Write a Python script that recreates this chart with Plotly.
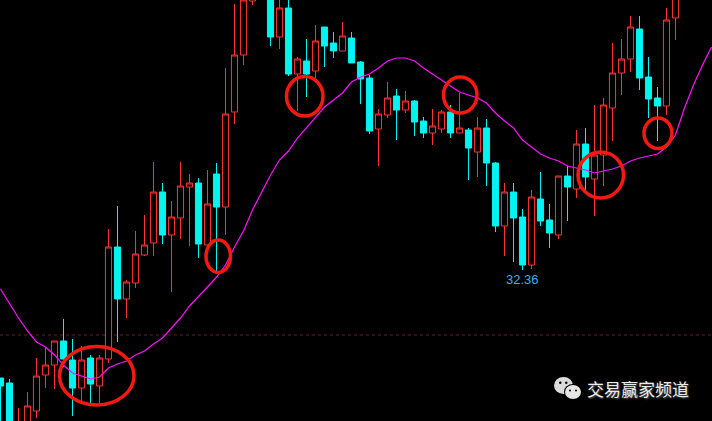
import plotly.graph_objects as go

# Daily candles, index 0..75 (the ones outside the frame are estimates)
opens = [30.20,30.10,28.96,29.06,29.54,30.26,30.46,30.94,30.56,30.00,30.60,30.04,30.58,32.82,31.78,32.10,32.66,32.90,33.92,33.06,
         33.40,34.02,34.10,32.86,34.28,33.62,35.52,36.66,37.74,38.00,38.06,37.02,37.60,36.28,36.54,36.34,37.22,36.90,36.74,37.00,
         36.52,36.20,35.18,35.46,35.84,35.56,35.74,35.34,35.10,35.18,35.52,35.10,35.16,34.72,35.20,34.50,33.24,33.92,33.42,32.46,
         33.78,33.36,33.06,34.24,33.98,34.88,34.18,34.66,35.60,36.30,36.58,37.18,36.22,35.80,35.64,37.40]
highs = [30.20,30.18,29.60,29.92,30.60,30.82,30.94,31.38,30.98,30.84,30.66,30.66,33.18,33.64,32.16,33.14,33.46,34.52,34.10,33.74,
         34.52,34.28,34.20,34.36,34.50,36.40,37.68,37.96,37.92,38.30,38.16,38.00,37.86,36.62,36.98,37.26,37.22,37.12,37.32,37.12,
         36.54,36.26,35.58,36.12,35.98,35.94,35.76,35.42,35.58,35.56,35.66,35.90,35.20,35.42,35.38,34.52,34.10,34.10,33.58,33.96,
         34.32,33.68,34.24,34.44,35.16,35.20,35.66,35.80,36.90,36.98,37.44,37.44,36.62,36.02,37.60,38.06]
lows = [29.16,28.86,28.86,28.96,29.40,30.00,29.98,30.42,29.44,29.72,29.70,29.68,30.50,30.92,31.40,32.00,32.64,32.64,32.88,31.92,
        32.98,32.84,32.60,32.76,32.30,33.06,35.28,36.46,37.66,37.85,36.84,36.78,36.24,35.54,35.82,36.20,36.42,36.60,36.74,36.50,
        35.68,35.08,34.44,35.40,34.96,35.50,35.04,35.00,34.86,35.10,35.00,35.10,34.16,34.22,34.04,33.12,32.64,32.52,32.36,32.38,
        33.24,32.80,32.98,33.34,33.80,33.96,33.44,34.04,34.94,35.86,36.32,35.96,35.40,34.94,35.46,36.96]
closes = [30.04,28.96,29.26,29.64,30.24,30.46,30.94,30.58,30.00,30.56,30.08,30.60,32.82,31.78,32.12,32.68,32.86,33.92,33.06,33.42,
          34.04,34.10,32.88,33.68,33.62,35.48,36.66,37.76,37.82,38.15,37.02,37.60,36.28,36.58,36.28,36.94,36.84,36.74,37.04,36.50,
          36.18,35.14,35.48,35.80,35.56,35.74,35.32,35.10,35.24,35.52,35.10,35.20,34.80,35.20,34.50,33.24,33.92,33.40,32.46,33.82,
          33.34,33.10,34.24,34.02,34.88,34.22,34.66,35.66,36.30,36.58,37.22,36.20,35.78,35.64,37.36,37.96]

# Moving average, index 0..79
ma = [31.98,31.68,31.40,31.14,30.92,30.82,30.66,30.46,30.30,30.24,30.18,30.22,30.40,30.48,30.54,30.66,30.74,30.88,31.00,31.20,
      31.40,31.64,31.82,32.02,32.22,32.46,32.82,33.14,33.56,33.92,34.26,34.56,34.74,35.00,35.20,35.42,35.62,35.76,35.90,36.12,
      36.22,36.28,36.40,36.54,36.60,36.60,36.54,36.40,36.28,36.16,36.04,35.92,35.86,35.80,35.70,35.50,35.34,35.20,34.96,34.82,
      34.68,34.60,34.54,34.44,34.40,34.36,34.30,34.34,34.38,34.44,34.54,34.60,34.64,34.68,34.82,35.06,35.60,36.06,36.46,36.82]

prev_close = 31.06
low_label = "32.36"
low_index = 58
low_value = 32.36
watermark = "交易赢家频道"

W, H = 712, 421
RED, CYAN, MAG = "#ff3333", "#00f5f0", "#ff10ff"

fig = go.Figure()
fig.add_trace(go.Candlestick(
    x=list(range(len(opens))), open=opens, high=highs, low=lows, close=closes,
    increasing=dict(line=dict(color=RED, width=1), fillcolor="#000000"),
    decreasing=dict(line=dict(color=CYAN, width=1), fillcolor=CYAN),
    whiskerwidth=0, showlegend=False, hoverinfo="skip"))
fig.add_trace(go.Scatter(x=list(range(len(ma))), y=ma, mode="lines",
                         line=dict(color=MAG, width=1.2), showlegend=False, hoverinfo="skip"))


def px(x0, x1, y0, y1):
    return dict(xref="paper", yref="paper", x0=x0 / W, x1=x1 / W, y0=1 - y0 / H, y1=1 - y1 / H)


shapes = [dict(type="line", xref="paper", x0=0, x1=1, yref="y", y0=prev_close, y1=prev_close,
               line=dict(color="#6e1c1c", width=1, dash="dot"), layer="below")]
# hand-drawn rings
for box in [(59.5, 134, 346.5, 405), (206, 230.5, 240, 272.5), (286.5, 323, 76.5, 116), (443.5, 477, 77, 113),
            (578, 623.5, 152, 198), (644, 672, 118, 148.5)]:
    shapes.append(dict(type="circle", line=dict(color="#f5190f", width=3.5), layer="above", **px(*box)))
# chat-bubble logo
for box, col in [((554, 573, 377, 394), "#dcdcdc"), ((564, 582, 384, 399.5), "#000000"), ((565, 581, 385, 399), "#e6e6e6"),
                 ((559, 561.5, 381.5, 384), "#000000"), ((565, 567.5, 381.5, 384), "#000000"),
                 ((569, 571, 389.5, 391.5), "#000000"), ((575, 577, 389.5, 391.5), "#000000")]:
    shapes.append(dict(type="circle", fillcolor=col, line=dict(width=0), layer="above", **px(*box)))

annotations = [
    dict(x=low_index, y=low_value, text=low_label, showarrow=False, yanchor="top", yshift=0,
         font=dict(family="Liberation Sans", size=13, color="#2fb4ee")),
    dict(x=637.5 / W, y=1 - 388 / H, xref="paper", yref="paper", xanchor="center", yanchor="middle",
         text=watermark, showarrow=False,
         font=dict(family="Noto Sans CJK SC", size=17, color="#ececec", shadow="1px 1px 2px #666")),
]

fig.update_layout(
    width=W, height=H, margin=dict(l=0, r=0, t=0, b=0), paper_bgcolor="#000000", plot_bgcolor="#000000",
    showlegend=False, shapes=shapes, annotations=annotations, boxgap=0.15, boxgroupgap=0.2,
    xaxis=dict(range=[-0.0556, 79.056], visible=False, rangeslider=dict(visible=False), showgrid=False, zeroline=False),
    yaxis=dict(range=[37.76 - 421 * 0.02, 37.76], visible=False, showgrid=False, zeroline=False),
)
fig.write_html("out.html", config=dict(displayModeBar=False),
               post_script="document.body.style.margin='0';document.body.style.background='#000';")
